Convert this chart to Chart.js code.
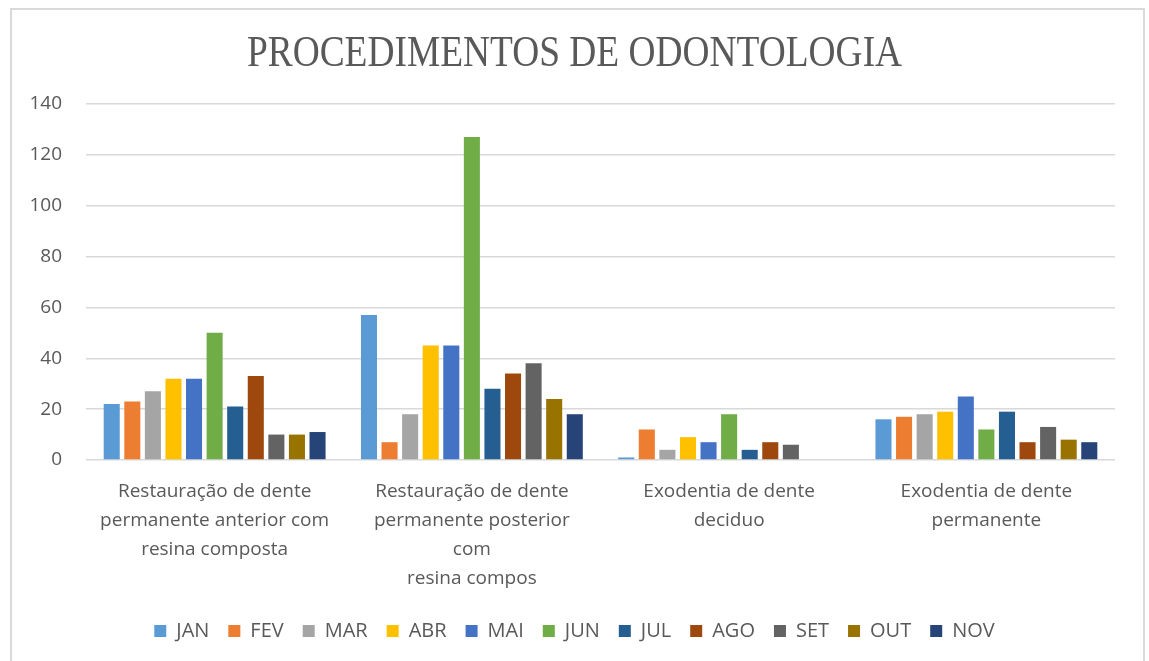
<!DOCTYPE html>
<html>
<head>
<meta charset="utf-8">
<script src="https://cdn.jsdelivr.net/npm/chart.js@4"></script>
<style>
    body { margin: 0; background: #fff; }
    #wrap { position: relative; width: 1149px; height: 661px; }
    #frame { position: absolute; left: 10px; top: 8px; width: 1131px; height: 660px;
             border: 2px solid #d9d9d9; border-bottom: none; pointer-events: none; }
</style>
</head>
<body>
<div id="wrap">
    <canvas id="chart" width="1149" height="661"></canvas>
    <div id="frame"></div>
</div>
<script>
// Donnees du graphique
const titulo = 'PROCEDIMENTOS DE ODONTOLOGIA';
const categorias = [
    ['Restauração de dente', 'permanente anterior com', 'resina composta'],
    ['Restauração de dente', 'permanente posterior', 'com', 'resina compos'],
    ['Exodentia de dente', 'deciduo'],
    ['Exodentia de dente', 'permanente']
];
const meses = ['JAN', 'FEV', 'MAR', 'ABR', 'MAI', 'JUN', 'JUL', 'AGO', 'SET', 'OUT', 'NOV'];
const cores = ['#5B9BD5', '#ED7D31', '#A5A5A5', '#FFC000', '#4472C4', '#70AD47',
               '#255E91', '#9E480E', '#636363', '#997300', '#264478'];

// valeurs par mois, une entree par categorie
const jan = [22, 57, 1, 16];
const fev = [23, 7, 12, 17];
const mar = [27, 18, 4, 18];
const abr = [32, 45, 9, 19];
const mai = [32, 45, 7, 25];
const jun = [50, 127, 18, 12];
const jul = [21, 28, 4, 19];
const ago = [33, 34, 7, 7];
const set = [10, 38, 6, 13];
const out = [10, 24, 0, 8];
const nov = [11, 18, 0, 7];
const valores = [jan, fev, mar, abr, mai, jun, jul, ago, set, out, nov];

const yTicks = [0, 20, 40, 60, 80, 100, 120, 140];

const textColor = '#595959';
const fontSans = "'Open Sans', 'Liberation Sans', sans-serif";

// Titre centre sur toute la largeur, un peu condense comme dans l'original
const tituloPlugin = {
    id: 'tituloPlugin',
    afterDraw(chart) {
        const c = chart.ctx;
        c.save();
        c.fillStyle = textColor;
        c.font = "44px 'Liberation Serif', 'DejaVu Serif', serif";
        c.textAlign = 'center';
        c.textBaseline = 'alphabetic';
        c.translate(chart.width / 2, 66);
        c.scale(0.85, 1);
        c.fillText(titulo, 0, 0);
        c.restore();
    }
};

const ctx = document.getElementById('chart').getContext('2d');
new Chart(ctx, {
    type: 'bar',
    data: {
        labels: categorias,
        datasets: meses.map((mes, i) => ({
            label: mes,
            data: valores[i],
            backgroundColor: cores[i],
            borderWidth: 0,
            categoryPercentage: 0.88,
            barPercentage: 0.78
        }))
    },
    options: {
        responsive: false,
        animation: false,
        layout: { padding: { left: 0, right: 0, top: 104, bottom: 10 } },
        scales: {
            x: {
                grid: { display: false, drawTicks: false },
                border: { display: false },
                ticks: {
                    color: textColor,
                    font: { family: fontSans, size: 19, lineHeight: 1.53 },
                    padding: 17,
                    maxRotation: 0,
                    autoSkip: false
                },
                afterFit: scale => { scale.height = 142; }
            },
            y: {
                min: 0,
                max: 140,
                afterBuildTicks: scale => { scale.ticks = yTicks.map(v => ({ value: v })); },
                grid: { color: '#d9d9d9', lineWidth: 1.5, drawTicks: false },
                border: { display: false },
                ticks: {
                    color: textColor,
                    font: { family: fontSans, size: 19 },
                    padding: 24
                },
                afterFit: scale => { scale.width = 86; }
            },
            // marge droite vide
            yDroite: {
                position: 'right',
                grid: { display: false, drawTicks: false },
                border: { display: false },
                ticks: { display: false },
                afterFit: scale => { scale.width = 34; }
            }
        },
        plugins: {
            title: { display: false },
            legend: {
                position: 'bottom',
                labels: {
                    color: textColor,
                    font: { family: fontSans, size: 20 },
                    boxWidth: 12,
                    boxHeight: 12,
                    padding: 19
                }
            },
            tooltip: { enabled: false }
        }
    },
    plugins: [tituloPlugin]
});
</script>
</body>
</html>
